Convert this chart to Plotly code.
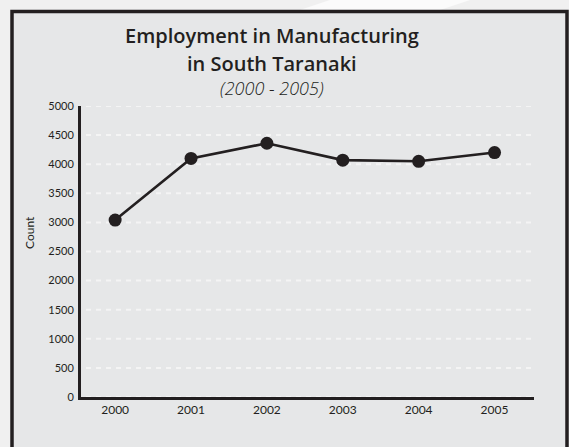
import plotly.graph_objects as go

# Employment counts in manufacturing, South Taranaki
years = ["2000", "2001", "2002", "2003", "2004", "2005"]
counts = [3040, 4100, 4360, 4070, 4050, 4200]
y_ticks = [0, 500, 1000, 1500, 2000, 2500, 3000, 3500, 4000, 4500, 5000]

W, H = 569, 447
L, R, T, B = 81, 35, 106, 50
pw, ph = W - L - R, H - T - B

def px_x(x):
    return (x - L) / pw

def px_y(y):
    return (H - B - y) / ph

DARK = "#231f20"
FONT = "Lato"
TITLE_FONT = "Open Sans"

fig = go.Figure()
fig.add_trace(go.Scatter(
    x=list(range(len(years))), y=counts,
    mode="lines+markers",
    line=dict(color=DARK, width=2.6),
    marker=dict(color=DARK, size=13),
    hoverinfo="skip",
))

shapes = [
    # light diagonal sheen across the top of the page
    dict(type="path", xref="paper", yref="paper", layer="below",
         path=f"M {px_x(330)} {px_y(0)} L {px_x(470)} {px_y(0)} L {px_x(440)} {px_y(10)} L {px_x(300)} {px_y(10)} Z",
         fillcolor="#fbfbfb", line=dict(width=0)),
    # framed panel
    dict(type="rect", xref="paper", yref="paper", layer="below",
         x0=px_x(12), x1=px_x(567), y0=px_y(460), y1=px_y(11.5),
         fillcolor="#e6e7e8", line=dict(color=DARK, width=3.5)),
]
# dashed light gridlines
for v in y_ticks:
    shapes.append(dict(type="line", xref="paper", yref="y", layer="below",
                       x0=px_x(86), x1=px_x(534), y0=v, y1=v,
                       line=dict(color="#f4f4f4", width=2, dash="5px,5px")))

annotations = [
    dict(text="Employment in Manufacturing", x=px_x(272), y=px_y(36), xref="paper", yref="paper",
         showarrow=False, font=dict(family=TITLE_FONT, size=20, weight=600, color=DARK),
         xanchor="center", yanchor="middle"),
    dict(text="in South Taranaki", x=px_x(272), y=px_y(63), xref="paper", yref="paper",
         showarrow=False, font=dict(family=TITLE_FONT, size=20, weight=600, color=DARK),
         xanchor="center", yanchor="middle"),
    dict(text="(2000 - 2005)", x=px_x(272), y=px_y(88), xref="paper", yref="paper",
         showarrow=False, font=dict(family=TITLE_FONT, size=18, style="italic", weight=300, color=DARK),
         xanchor="center", yanchor="middle"),
    dict(text="Count", x=px_x(29), y=px_y(233), xref="paper", yref="paper", textangle=-90,
         showarrow=False, font=dict(family=FONT, size=12, color=DARK), xanchor="center", yanchor="middle"),
]

fig.update_layout(
    width=W, height=H,
    margin=dict(l=L, r=R, t=T, b=B),
    paper_bgcolor="#f0f0f0",
    plot_bgcolor="rgba(0,0,0,0)",
    showlegend=False,
    shapes=shapes,
    annotations=annotations,
    xaxis=dict(range=[-0.45, 5.52], tickvals=list(range(len(years))), ticktext=years,
               showgrid=False, zeroline=False, showline=True, linecolor=DARK, linewidth=3,
               ticks="", tickfont=dict(family=FONT, size=12, color=DARK), fixedrange=True),
    yaxis=dict(range=[0, 5000], tickvals=y_ticks, ticktext=[str(v) for v in y_ticks],
               showgrid=False, zeroline=False, showline=True, linecolor=DARK, linewidth=3,
               ticks="", ticklabelstandoff=2, tickfont=dict(family=FONT, size=11, color=DARK),
               fixedrange=True),
)

fig.write_html("out.html", config={"displayModeBar": False})
